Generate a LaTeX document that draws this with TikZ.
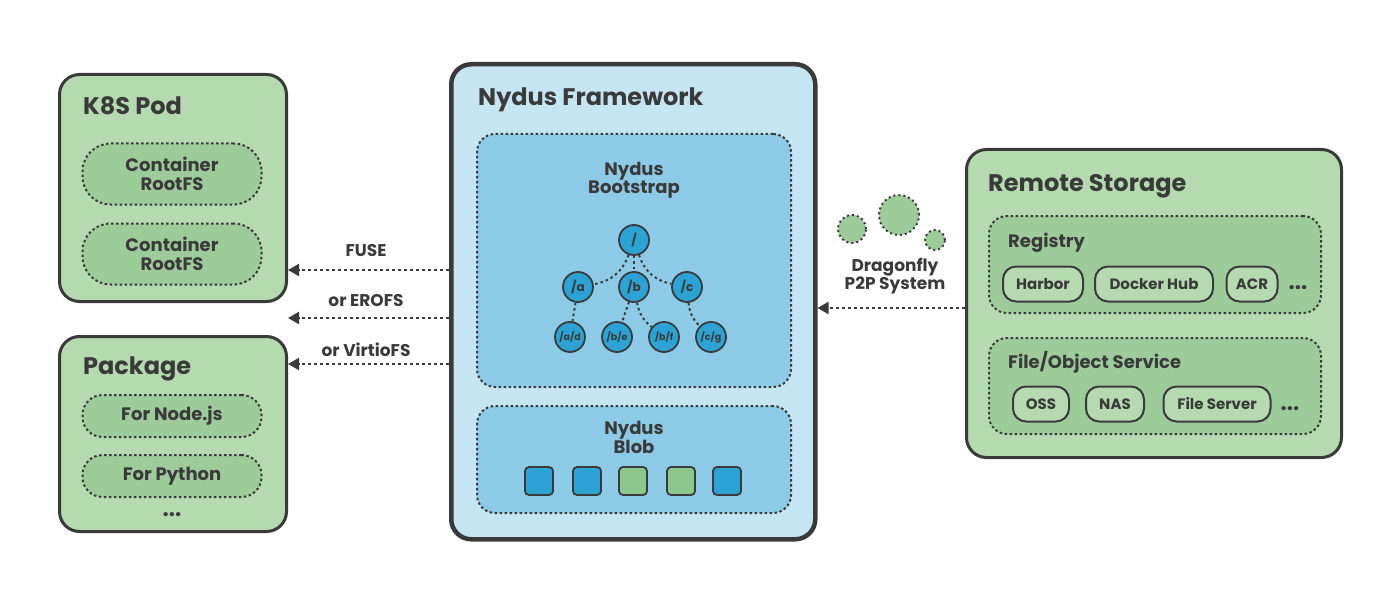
\documentclass[tikz,border=0pt]{standalone}
\usepackage{fontspec}
\setmainfont{Poppins}
\usetikzlibrary{arrows.meta,positioning}
\definecolor{inkgray}{HTML}{3A3A3A}
\definecolor{podgreen}{HTML}{B5DAB0}
\definecolor{pillgreen}{HTML}{9DCC9A}
\definecolor{framblue}{HTML}{C6E5F3}
\definecolor{bootblue}{HTML}{8DCAE7}
\definecolor{nodeblue}{HTML}{2DA2D4}
\definecolor{chunkgreen}{HTML}{8CC78E}
\tikzset{
  greenbox/.style={draw=inkgray,line width=3pt,rounded corners=20pt,fill=podgreen,anchor=north west},
  dotbox/.style={draw=inkgray,line width=2pt,dash pattern=on 2.5pt off 2.5pt,rounded corners=18pt,anchor=north west},
  pill/.style={draw=inkgray,line width=2pt,dash pattern=on 2.5pt off 2.5pt,fill=pillgreen,minimum width=179pt,align=center,text=inkgray,font=\fontsize{18}{19}\selectfont\bfseries},
  svcbox/.style={draw=inkgray,line width=2pt,rounded corners=13pt,fill=podgreen,minimum height=35pt,text=inkgray,font=\fontsize{15}{16}\selectfont\bfseries},
  boxtitle/.style={anchor=base west,inner sep=0pt,text=inkgray,font=\fontsize{24}{26}\selectfont\bfseries},
  subtitle/.style={align=center,text=inkgray,font=\fontsize{18}{18}\selectfont\bfseries},
  fsnode/.style={circle,draw=inkgray,line width=1.8pt,fill=nodeblue,minimum size=30pt,inner sep=0pt,text=inkgray,font=\fontsize{12}{12}\selectfont\bfseries},
  leafnode/.style={fsnode,font=\fontsize{9.5}{10}\selectfont\bfseries},
  chunk/.style={draw=inkgray,line width=1.8pt,rounded corners=4pt,minimum size=28pt},
  treeline/.style={draw=inkgray,line width=2pt,dash pattern=on 2.5pt off 3pt},
  flow/.style={draw=inkgray,line width=2pt,dash pattern=on 3pt off 3pt,-{Triangle[length=11pt,width=12pt]}},
  flowlabel/.style={text=inkgray,font=\fontsize{17}{18}\selectfont\bfseries},
  moredots/.style={anchor=base,inner sep=0pt,text=inkgray,font=\fontsize{22}{22}\selectfont\bfseries},
  peer/.style={circle,draw=inkgray,line width=2pt,dash pattern=on 2pt off 3pt,fill=pillgreen,inner sep=0pt},
}
\begin{document}
\begin{tikzpicture}[x=1pt,y=-1pt]
  \useasboundingbox (0,0) rectangle (1400,599);
  % K8S pod and packages
  \node[greenbox,minimum width=227pt,minimum height=227pt] (k8s) at (58,73) {};
  \node[boxtitle] (k8stitle) at (83,115) {K8S Pod};
  \node[pill,minimum height=61pt,rounded corners=28pt] (rootfsa) at (172,174) {Container\\RootFS};
  \node[pill,minimum height=61pt,rounded corners=28pt] (rootfsb) at (172,254) {Container\\RootFS};
  \node[greenbox,minimum width=227pt,minimum height=195pt] (pkg) at (58,335) {};
  \node[boxtitle] (pkgtitle) at (83,374) {Package};
  \node[pill,minimum height=42pt,rounded corners=20pt] (nodejs) at (172,416) {For Node.js};
  \node[pill,minimum height=42pt,rounded corners=20pt] (python) at (172,476) {For Python};
  \node[moredots] (pkgmore) at (172,516) {...};
  % Nydus framework
  \node[greenbox,fill=framblue,line width=4.5pt,minimum width=364pt,minimum height=475pt] (fw) at (449,62) {};
  \node[boxtitle] (fwtitle) at (478,106) {Nydus Framework};
  \node[dotbox,fill=bootblue,minimum width=314pt,minimum height=253pt] (boot) at (476,133) {};
  \node[subtitle] (boottitle) at (634,180) {Nydus\\Bootstrap};
  \node[fsnode] (root) at (634,240) {/};
  \node[fsnode] (na) at (578,287) {/a};
  \node[fsnode] (nb) at (634,287) {/b};
  \node[fsnode] (nc) at (687,287) {/c};
  \node[leafnode] (nad) at (570,337) {/a/d};
  \node[leafnode] (nbe) at (617,337) {/b/e};
  \node[leafnode] (nbf) at (664,337) {/b/f};
  \node[leafnode] (ncg) at (711,337) {/c/g};
  \draw[treeline] (root) to[bend left=30] (na);
  \draw[treeline] (root) -- (nb);
  \draw[treeline] (root) to[bend right=30] (nc);
  \draw[treeline] (na) -- (nad);
  \draw[treeline] (nb) -- (nbe);
  \draw[treeline] (nb) to[bend right=20] (nbf);
  \draw[treeline] (nc) to[bend right=20] (ncg);
  \node[dotbox,fill=bootblue,minimum width=314pt,minimum height=107pt] (blob) at (476,405) {};
  \node[subtitle] (blobtitle) at (634,437) {Nydus\\Blob};
  \node[chunk,fill=nodeblue] (ca) at (539,481) {};
  \node[chunk,fill=nodeblue] (cb) at (587,481) {};
  \node[chunk,fill=chunkgreen] (cc) at (633,481) {};
  \node[chunk,fill=chunkgreen] (cd) at (681,481) {};
  \node[chunk,fill=nodeblue] (ce) at (727,481) {};
  % mount paths
  \coordinate (fusey) at (0,270);
  \coordinate (erofsy) at (0,318);
  \coordinate (virtioy) at (0,364);
  \draw[flow] (fw.west |- fusey) -- (k8s.east |- fusey);
  \draw[flow] (fw.west |- erofsy) -- (k8s.east |- erofsy);
  \draw[flow] (fw.west |- virtioy) -- (pkg.east |- virtioy);
  \node[flowlabel] (fuse) at (366,251) {FUSE};
  \node[flowlabel] (erofs) at (366,301) {or EROFS};
  \node[flowlabel] (virtio) at (366,350) {or VirtioFS};
  % remote storage
  \node[greenbox,minimum width=375pt,minimum height=308pt] (rs) at (965,148) {};
  \node[boxtitle] (rstitle) at (988,191) {Remote Storage};
  \node[dotbox,fill=pillgreen,minimum width=332pt,minimum height=97pt] (reg) at (988,215) {};
  \node[boxtitle,font=\fontsize{18}{19}\selectfont\bfseries] (regtitle) at (1008,247) {Registry};
  \node[svcbox,minimum width=80pt] (harbor) at (1043,284) {Harbor};
  \node[svcbox,minimum width=118pt] (dhub) at (1154,284) {Docker Hub};
  \node[svcbox,minimum width=51pt] (acr) at (1252,284) {ACR};
  \node[moredots] (regmore) at (1298,289) {...};
  \node[dotbox,fill=pillgreen,minimum width=332pt,minimum height=96pt] (fos) at (988,337) {};
  \node[boxtitle,font=\fontsize{18}{19}\selectfont\bfseries] (fostitle) at (1008,368) {File/Object Service};
  \node[svcbox,minimum width=56pt] (oss) at (1041,404) {OSS};
  \node[svcbox,minimum width=58pt] (nas) at (1115,404) {NAS};
  \node[svcbox,minimum width=107pt] (fsrv) at (1217,404) {File Server};
  \node[moredots] (fosmore) at (1290,410) {...};
  % dragonfly
  \node[peer,minimum size=28pt] (peera) at (852,229) {};
  \node[peer,minimum size=40pt] (peerb) at (899,215) {};
  \node[peer,minimum size=20pt] (peerc) at (935,240) {};
  \node[subtitle,font=\fontsize{17}{17}\selectfont\bfseries] (p2p) at (895,276) {Dragonfly\\P2P System};
  \coordinate (p2py) at (0,308);
  \draw[flow] (rs.west |- p2py) -- (fw.east |- p2py);
\end{tikzpicture}
\end{document}
